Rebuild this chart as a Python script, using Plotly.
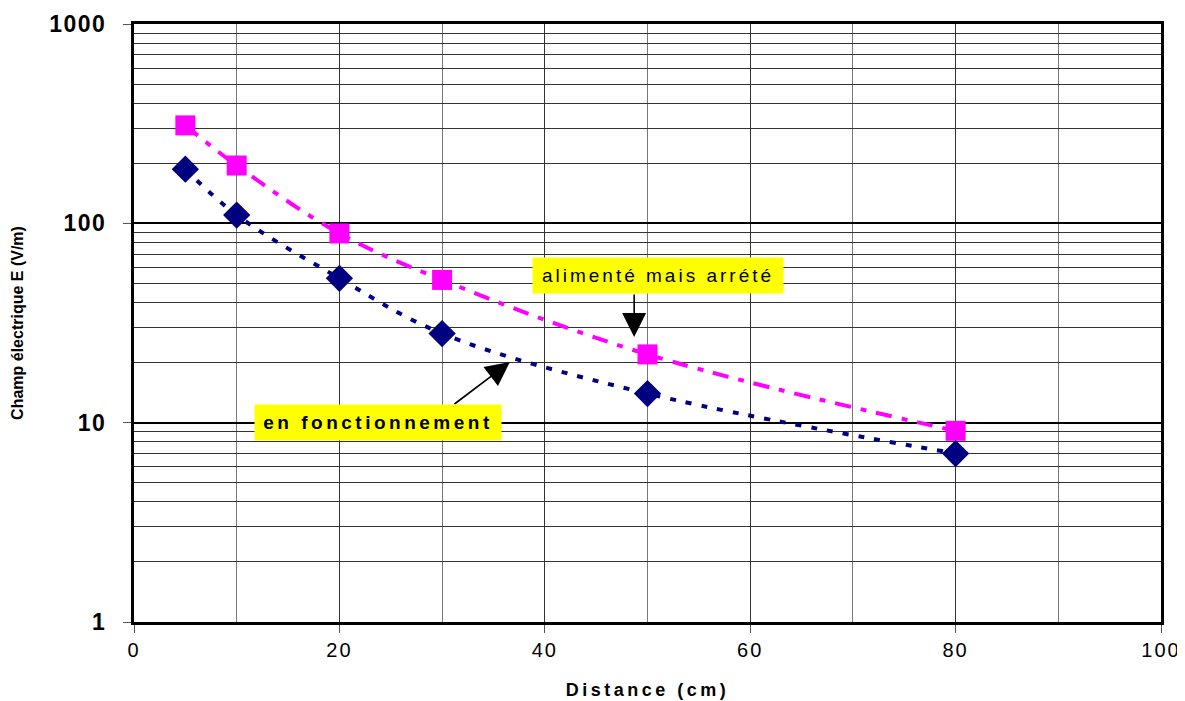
import plotly.graph_objects as go

distance = [5, 10, 20, 30, 50, 80]
alimente = [310, 195, 89, 52, 22, 9.1]
fonction = [187, 110, 53, 28, 14, 7.0]

x_ticks = [0, 20, 40, 60, 80, 100]
y_ticks = [1, 10, 100, 1000]

FONT = "Liberation Sans, Arial, sans-serif"


def spaced(text, px, bold=False):
    t = "<span style='letter-spacing:%spx'>%s</span>" % (px, text)
    return "<b>%s</b>" % t if bold else t


fig = go.Figure()
fig.add_trace(go.Scatter(
    x=distance, y=alimente, mode="lines+markers", line_shape="spline",
    line=dict(color="#FF00FF", width=4, dash="16px,10px,6px,10px"),
    marker=dict(symbol="square", size=20, color="#FF00FF"),
    name="alimenté mais arrété", showlegend=False))
fig.add_trace(go.Scatter(
    x=distance, y=fonction, mode="lines+markers", line_shape="spline",
    line=dict(color="#000080", width=4, dash="6px,10px"),
    marker=dict(symbol="diamond", size=21, color="#000080"),
    name="en fonctionnement", showlegend=False))

# arrows
fig.add_annotation(x=48.7, y=1.43, ax=48.7, ay=1.65, xref="x", yref="y", axref="x", ayref="y",
                   showarrow=True, arrowhead=2, arrowsize=3, arrowwidth=1.6, arrowcolor="black",
                   text="", standoff=0)
fig.add_annotation(x=36.6, y=1.304, ax=31.06, ay=1.088, xref="x", yref="y", axref="x", ayref="y",
                   showarrow=True, arrowhead=2, arrowsize=3, arrowwidth=1.6, arrowcolor="black",
                   text="", standoff=0)
# labels
fig.add_annotation(x=51.0, y=1.738, xref="x", yref="y", showarrow=False,
                   text=spaced("alimenté mais arrété", 3), bgcolor="#FFFF00",
                   font=dict(family=FONT, size=19, color="black"),
                   width=246, height=31, borderpad=2)
fig.add_annotation(x=23.76, y=1.0, xref="x", yref="y", showarrow=False,
                   text=spaced("en fonctionnement", 3.5, bold=True), bgcolor="#FFFF00",
                   font=dict(family=FONT, size=19, color="black"),
                   width=242, height=31, borderpad=2)

fig.update_layout(
    width=1185, height=701,
    margin=dict(l=126, r=32, t=16, b=87),
    paper_bgcolor="white", plot_bgcolor="white",
    font=dict(family=FONT, color="black"),
)
fig.update_xaxes(
    range=[0, 100], tickvals=x_ticks, ticktext=[spaced(str(v), 2) for v in x_ticks],
    ticks="outside", ticklen=8, tickcolor="#555", tickwidth=1,
    showgrid=True, gridcolor="#333", gridwidth=1,
    minor=dict(dtick=10, showgrid=True, gridcolor="#777", gridwidth=1, ticks=""),
    showline=True, linecolor="black", linewidth=3, mirror=True,
    tickfont=dict(size=20, family=FONT), automargin=False,
    title=dict(text=spaced("Distance (cm)", 3.5, bold=True), font=dict(size=18, family=FONT), standoff=24),
    zeroline=False,
)
fig.update_yaxes(
    type="log", range=[0, 3], tickvals=y_ticks, ticktext=[spaced(str(v), 1.5, bold=True) for v in y_ticks],
    ticks="outside", ticklen=8, tickcolor="#555", tickwidth=1,
    showgrid=True, gridcolor="black", gridwidth=1.5,
    minor=dict(dtick="D1", showgrid=True, gridcolor="#333", gridwidth=1, ticks=""),
    showline=True, linecolor="black", linewidth=3, mirror=True,
    tickfont=dict(size=23, family=FONT), ticklabelstandoff=12, automargin=False,
    title=dict(text="<b>Champ électrique E (V/m)</b>", font=dict(size=16, family=FONT), standoff=22),
    zeroline=False,
)

fig.write_html("out.html")
